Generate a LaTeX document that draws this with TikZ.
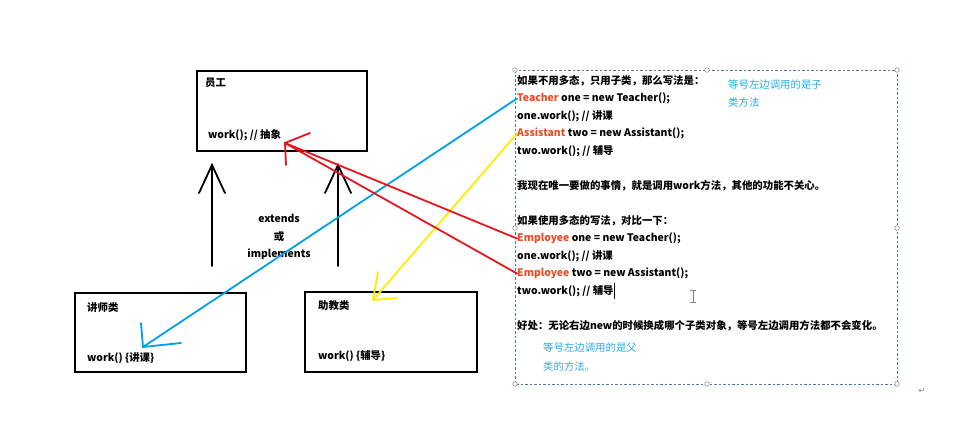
\documentclass[tikz,border=0pt]{standalone}
\usepackage{fontspec}
\setmainfont{Noto Sans CJK SC}
\newfontfamily\symfont{DejaVu Sans}
\definecolor{kwred}{RGB}{232,76,34}
\definecolor{lineblue}{RGB}{0,160,233}
\definecolor{lineyel}{RGB}{255,236,0}
\definecolor{linered}{RGB}{232,20,30}
\definecolor{notecol}{RGB}{40,170,235}
\definecolor{framecol}{RGB}{80,120,160}

\begin{document}
\begin{tikzpicture}[x=1pt,y=-1pt,font=\bfseries\fontsize{10.4}{17.5}\selectfont]
\tikzset{cls/.style={draw,line width=2pt,inner sep=0pt},
 txt/.style={anchor=west,inner sep=0pt},
 kw/.style={text=kwred},
 note/.style={txt,font=\fontsize{10.4}{17.5}\selectfont,text=notecol},
 hand/.style={line width=1.8pt,line cap=round},
 handle/.style={draw=gray,fill=white,line width=.5pt}}
\useasboundingbox (0,0) rectangle (965,426);
\node[cls,minimum width=170pt,minimum height=80pt] (emp) at (282,111) {};
\node[cls,minimum width=171pt,minimum height=79pt] (tea) at (160.5,332.5) {};
\node[cls,minimum width=172pt,minimum height=80pt] (asi) at (391,332) {};
\node[txt] (empname) at (205,83) {员工};
\node[txt] (empwork) at (208,135) {work(); // 抽象};
\node[txt] (teaname) at (87,308) {讲师类};
\node[txt] (teawork) at (87,358) {work() \{讲课\}};
\node[txt] (asiname) at (318,306) {助教类};
\node[txt] (asiwork) at (318,356) {work() \{辅导\}};
\foreach \x/\n in {212/a,338/b}{
 \coordinate (\n foot) at (\x,266);
 \coordinate (\n tip) at (\x,165);
 \draw[hand] (\n foot) -- (\n tip);
 \draw[hand] (\n tip) ++(-13,28) -- (\n tip) -- ++(13,28);
}
\node[align=center] (rel) at (279,237) {extends\\或\\implements};
\draw[framecol,dash pattern=on 2.5pt off 2pt,line width=.8pt] (515,70) rectangle (897,384);
\foreach \x/\y in {515/70,707/70,897/70,515/228,897/228,515/384,707/384,897/384}{
 \fill[handle] (\x,\y) circle (2.3pt);
}
\node[txt] (plain1) at (517,81) {如果不用多态，只用子类，那么写法是：};
\node[txt] (tline) at (517,98.5) {\textcolor{kwred}{Teacher} one = new Teacher();};
\node[txt] (twork) at (517,116) {one.work(); // 讲课};
\node[txt] (aline) at (517,133.5) {\textcolor{kwred}{Assistant} two = new Assistant();};
\node[txt] (awork) at (517,151) {two.work(); // 辅导};
\node[txt] (goal) at (517,186) {我现在唯一要做的事情，就是调用work方法，其他的功能不关心。};
\node[txt] (poly) at (517,221) {如果使用多态的写法，对比一下：};
\node[txt] (eline1) at (517,238.5) {\textcolor{kwred}{Employee} one = new Teacher();};
\node[txt] (ework1) at (517,256) {one.work(); // 讲课};
\node[txt] (eline2) at (517,273.5) {\textcolor{kwred}{Employee} two = new Assistant();};
\node[txt] (ework2) at (517,291) {two.work(); // 辅导};
\node[txt] (gain) at (517,326) {好处：无论右边new的时候换成哪个子类对象，等号左边调用方法都不会变化。};
\node[note] (noteA1) at (728,85) {等号左边调用的是子};
\node[note] (noteA2) at (728,103) {类方法};
\node[note] (noteB1) at (543,348) {等号左边调用的是父};
\node[note] (noteB2) at (543,367) {类的方法。};
\draw[line width=.6pt] (ework2.east) ++(1,-8) -- ++(0,16);
\draw[gray,line width=.6pt] (690,290) -- (696,290) (693,290) -- (693,302) (690,302) -- (696,302);
\node[gray,inner sep=0pt,font=\symfont\fontsize{8}{8}\selectfont] (para) at (922,391) {↵};
\coordinate (teatip) at (143,347);
\coordinate (asitip) at (373,300);
\coordinate (emptip) at (285,143);
\draw[hand,lineblue] (tline.west) -- (teatip);
\draw[hand,lineblue] (teatip) ++(-2,-24) -- (teatip) -- ++(38,-4);
\draw[hand,lineyel] (aline.west) -- (asitip);
\draw[hand,lineyel] (asitip) ++(5,-28) -- (asitip) -- ++(24,-2);
\draw[hand,linered] (eline1.west) -- (emptip);
\draw[hand,linered] (eline2.west) -- (emptip);
\draw[hand,linered] (emptip) ++(25,-10) -- (emptip) -- ++(1,22);
\end{tikzpicture}
\end{document}
